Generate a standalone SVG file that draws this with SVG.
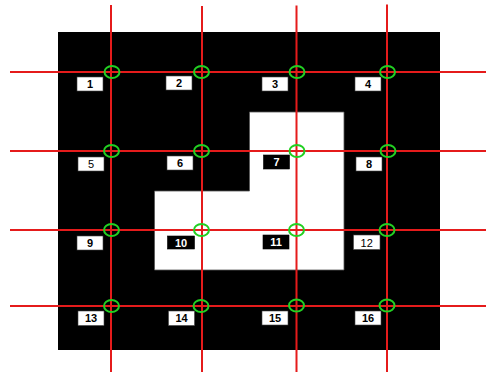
<svg xmlns="http://www.w3.org/2000/svg" width="486" height="374" viewBox="0 0 486 374">
<style>
.grid{stroke:#e51b1b;stroke-width:2;fill:none}
.ring{stroke:#22d022;stroke-width:2;fill:none}
.lb{fill:#fff;stroke:#444;stroke-width:0.6}
.lbk{fill:#000;stroke:#000;stroke-width:0.6}
.t{font-family:"Liberation Sans",Arial,sans-serif;font-size:11px;font-weight:bold;text-anchor:middle;fill:#000}
.tw{font-family:"Liberation Sans",Arial,sans-serif;font-size:11px;font-weight:bold;text-anchor:middle;fill:#fff}
.tn{font-weight:normal}
</style>
<rect x="0" y="0" width="486" height="374" fill="#fff"/>
<g id="image">
<rect x="58" y="32" width="382" height="318" fill="#000"/>
<path d="M249.5 112 H344 V270 H154.5 V191 H249.5 Z" fill="#fff" stroke="#555" stroke-width="0.8"/>
</g>
<g id="connectors">
<line class="grid" x1="111" y1="5" x2="111" y2="372"/>
<line class="grid" x1="202" y1="6" x2="202" y2="372"/>
<line class="grid" x1="296.5" y1="5.5" x2="296.5" y2="372"/>
<line class="grid" x1="387" y1="4.5" x2="387" y2="372"/>
<line class="grid" x1="10" y1="72" x2="486" y2="72"/>
<line class="grid" x1="10" y1="151" x2="486" y2="151"/>
<line class="grid" x1="10" y1="230" x2="486" y2="230"/>
<line class="grid" x1="10" y1="306" x2="486" y2="306"/>
</g>
<g id="n1"><ellipse class="ring" cx="112" cy="72" rx="7.5" ry="6"/><rect class="lb" x="77" y="77" width="26" height="14"/><text class="t" x="90" y="88">1</text></g>
<g id="n2"><ellipse class="ring" cx="201.5" cy="72" rx="7.5" ry="6"/><rect class="lb" x="166" y="76" width="26" height="14"/><text class="t" x="179" y="87">2</text></g>
<g id="n3"><ellipse class="ring" cx="297" cy="72" rx="7.5" ry="6"/><rect class="lb" x="262" y="77" width="26" height="14"/><text class="t" x="275" y="88">3</text></g>
<g id="n4"><ellipse class="ring" cx="387.5" cy="72" rx="7.5" ry="6"/><rect class="lb" x="355" y="77" width="26" height="14"/><text class="t" x="368" y="88">4</text></g>
<g id="n5"><ellipse class="ring" cx="111.5" cy="151" rx="7.5" ry="6"/><rect class="lb" x="78" y="157" width="26" height="14"/><text class="t tn" x="91" y="168" fill="#444">5</text></g>
<g id="n6"><ellipse class="ring" cx="201.5" cy="151" rx="7.5" ry="6"/><rect class="lb" x="167" y="156" width="26" height="14"/><text class="t" x="180" y="167">6</text></g>
<g id="n7"><ellipse class="ring" cx="297" cy="151" rx="7.5" ry="6"/><rect class="lbk" x="263.5" y="155" width="26" height="14"/><text class="tw" x="276.5" y="166">7</text></g>
<g id="n8"><ellipse class="ring" cx="388" cy="151" rx="7.5" ry="6"/><rect class="lb" x="356" y="157" width="26" height="14"/><text class="t" x="369" y="168">8</text></g>
<g id="n9"><ellipse class="ring" cx="111.5" cy="230" rx="7.5" ry="6"/><rect class="lb" x="77" y="236" width="26" height="14"/><text class="t" x="90" y="247">9</text></g>
<g id="n10"><ellipse class="ring" cx="201.5" cy="230" rx="7.5" ry="6"/><rect class="lbk" x="167.5" y="236" width="27" height="13"/><text class="tw" x="181" y="246.5">10</text></g>
<g id="n11"><ellipse class="ring" cx="296.5" cy="230" rx="7.5" ry="6"/><rect class="lbk" x="263" y="235" width="26" height="14"/><text class="tw" x="276" y="246">11</text></g>
<g id="n12"><ellipse class="ring" cx="387" cy="230" rx="7.5" ry="6"/><rect class="lb" x="353.5" y="235" width="26.5" height="14.5"/><text class="t tn" x="366.7" y="246.5">12</text></g>
<g id="n13"><ellipse class="ring" cx="111.5" cy="306" rx="7.5" ry="6"/><rect class="lb" x="78" y="311" width="26" height="14.5"/><text class="t" x="91" y="322">13</text></g>
<g id="n14"><ellipse class="ring" cx="201" cy="306" rx="7.5" ry="6"/><rect class="lb" x="168.5" y="311" width="26" height="14.5"/><text class="t" x="181.5" y="322">14</text></g>
<g id="n15"><ellipse class="ring" cx="296.5" cy="305.5" rx="7.5" ry="6"/><rect class="lb" x="262" y="311" width="26" height="14"/><text class="t" x="275" y="322">15</text></g>
<g id="n16"><ellipse class="ring" cx="387" cy="305.5" rx="7.5" ry="6"/><rect class="lb" x="355" y="311" width="26" height="14"/><text class="t" x="368" y="322">16</text></g>
</svg>
